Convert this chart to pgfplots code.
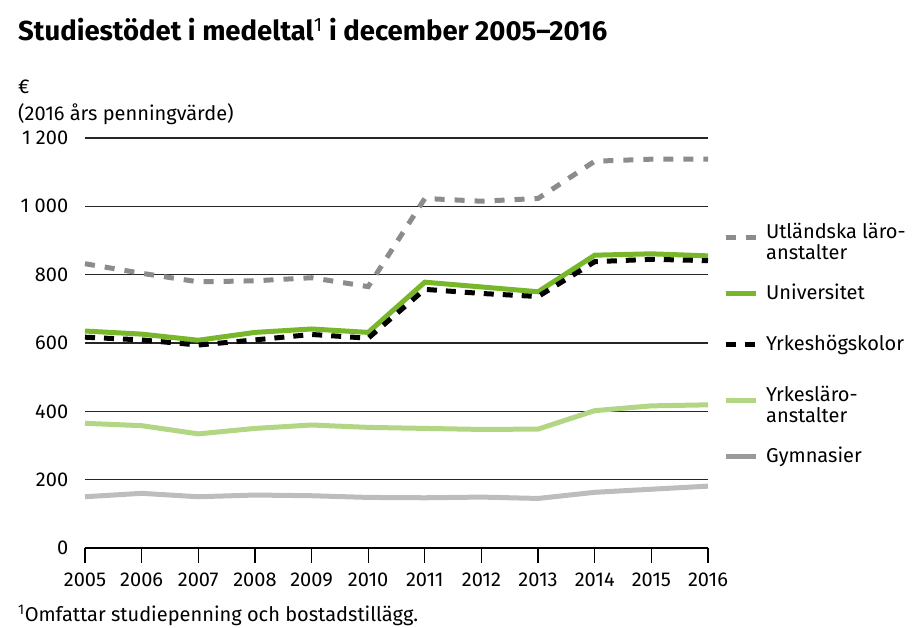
\documentclass[border=0pt]{standalone}
\usepackage{pgfplots}
\pgfplotsset{compat=1.18}
\usepackage{fontspec}
\setmainfont{Fira Sans}
\definecolor{utl}{HTML}{8C8C8C}
\definecolor{uni}{HTML}{78B72A}
\definecolor{yhs}{HTML}{000000}
\definecolor{ylr}{HTML}{B2D683}
\definecolor{gym}{HTML}{BDBDBD}
\definecolor{gymleg}{HTML}{9A9A9A}
\newcommand{\cell}[1]{\begin{tabular}[c]{@{}l@{}}#1\end{tabular}}
\begin{document}
\fontsize{20}{20}\selectfont
\begin{tikzpicture}
\useasboundingbox (-85pt,-80pt) rectangle (832pt,548pt);
\begin{axis}[
  at={(0pt,0pt)}, anchor=south west,
  scale only axis, width=623pt, height=410pt,
  xmin=2005, xmax=2016, ymin=0, ymax=1200,
  axis lines*=left,
  y axis line style={draw=none},
  x axis line style={black, line width=1.2pt},
  xtick={2005,2006,...,2016},
  ytick={0,200,400,600,800,1000,1200},
  yticklabels={0,200,400,600,800,1~000,1~200},
  x tick label style={/pgf/number format/1000 sep=, yshift=-3pt},
  /pgf/number format/assume math mode=true,
  tick label style={font=\fontsize{20}{20}\selectfont},
  y tick label style={xshift=5pt},
  xtick style={black, line width=1.2pt},
  ytick style={draw=none},
  tick align=outside,
  major tick length=15pt,
  ymajorgrids,
  grid style={black!85, line width=1.2pt},
  clip=false,
  legend image code/.code={\draw[#1] (0pt,0pt) -- (30pt,0pt);},
  legend cell align=left,
  legend style={
    draw=none, fill=none,
    at={(rel axis cs:1.024,0.794)}, anchor=north west,
    inner sep=0pt, row sep=32pt,
    nodes={inner sep=0pt, font=\fontsize{20}{20}\selectfont},
    /tikz/every odd column/.append style={column sep=8pt},
  },
]
\addplot[utl, line width=5pt, dash pattern=on 10pt off 10pt] coordinates {
 (2005,832) (2006,804) (2007,779) (2008,782) (2009,791) (2010,765)
 (2011,1023) (2012,1015) (2013,1023) (2014,1132) (2015,1138) (2016,1138)};
\addlegendentry{\cell{Utländska läro-\\anstalter}}
\addplot[uni, line width=5pt] coordinates {
 (2005,635) (2006,626) (2007,608) (2008,631) (2009,641) (2010,631)
 (2011,778) (2012,764) (2013,750) (2014,857) (2015,861) (2016,855)};
\addlegendentry{\cell{Universitet}}
\addplot[yhs, line width=5pt, dash pattern=on 10pt off 9pt] coordinates {
 (2005,617) (2006,609) (2007,594) (2008,609) (2009,625) (2010,614)
 (2011,757) (2012,745) (2013,736) (2014,838) (2015,845) (2016,841)};
\addlegendentry{\cell{Yrkeshögskolor}}
\addplot[ylr, line width=5pt] coordinates {
 (2005,365) (2006,358) (2007,334) (2008,350) (2009,360) (2010,353)
 (2011,350) (2012,347) (2013,348) (2014,402) (2015,416) (2016,419)};
\addlegendentry{\cell{Yrkesläro-\\anstalter}}
\addplot[gym, line width=5pt, legend image post style={gymleg}] coordinates {
 (2005,150) (2006,160) (2007,150) (2008,155) (2009,153) (2010,148)
 (2011,147) (2012,149) (2013,145) (2014,163) (2015,172) (2016,181)};
\addlegendentry{\cell{Gymnasier}}
\end{axis}
\node[anchor=base west, inner sep=0pt] at (-67pt,507pt)
  {\fontsize{27.5}{27.5}\selectfont\bfseries Studiestödet i medeltal\textsuperscript{\mdseries 1} i december 2005–2016};
\node[anchor=base west, inner sep=0pt] at (-67pt,454pt) {€};
\node[anchor=base west, inner sep=0pt] at (-67pt,427pt) {(2016 års penningvärde)};
\node[anchor=base west, inner sep=0pt] at (-67pt,-74pt) {\textsuperscript{1}Omfattar studiepenning och bostadstillägg.};
\end{tikzpicture}
\end{document}
